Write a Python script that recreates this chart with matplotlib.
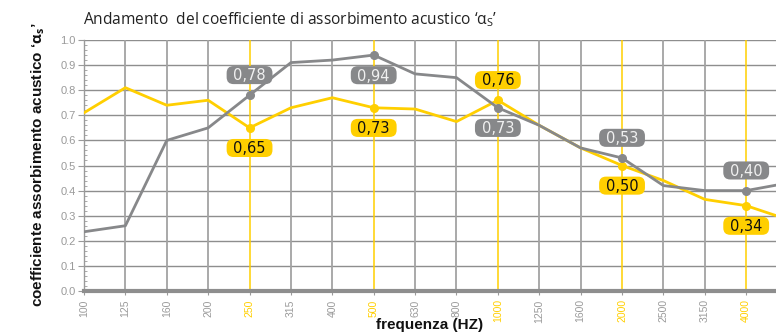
import numpy as np
import matplotlib
matplotlib.use("Agg")
import matplotlib.pyplot as plt
from matplotlib import font_manager
from matplotlib.patches import FancyBboxPatch
from matplotlib.transforms import Affine2D, ScaledTranslation

# Frequency bands (Hz) and absorption coefficients for the two materials
freqs = ["100", "125", "160", "200", "250", "315", "400", "500", "630", "800",
         "1000", "1250", "1600", "2000", "2500", "3150", "4000", "5000"]
grey_vals = [0.236, 0.26, 0.60, 0.65, 0.78, 0.91, 0.92, 0.94, 0.865, 0.85,
             0.73, 0.66, 0.57, 0.53, 0.42, 0.40, 0.40, 0.43]
yellow_vals = [0.71, 0.81, 0.74, 0.76, 0.65, 0.73, 0.77, 0.73, 0.725, 0.675,
               0.76, 0.66, 0.57, 0.50, 0.44, 0.365, 0.34, 0.285]
octave_bands = ["250", "500", "1000", "2000", "4000"]
y_ticks = [0.0, 0.1, 0.2, 0.3, 0.4, 0.5, 0.6, 0.7, 0.8, 0.9, 1.0]

GREY = "#87888a"
YELLOW = "#ffcf00"
GRID = "#8e8e8e"
TICK = "#9a9a9a"

names = {f.name for f in font_manager.fontManager.ttflist}
cond = "Liberation Sans Narrow" if "Liberation Sans Narrow" in names else "Liberation Sans"

plt.rcParams["mathtext.fontset"] = "custom"
plt.rcParams["mathtext.rm"] = "Open Sans"
plt.rcParams["mathtext.it"] = "Open Sans"
plt.rcParams["mathtext.bf"] = "Open Sans:bold"

fig = plt.figure(figsize=(7.76, 3.34), dpi=100)
W, H = 776, 334
ax = fig.add_axes([84 / W, (H - 291) / H, (W - 84) / W, (291 - 40) / H])

x = np.arange(len(freqs))

# grid
for yv in y_ticks[1:]:
    ax.axhline(yv, color=GRID, lw=1.0, zorder=1)
for i, f in enumerate(freqs):
    if f in octave_bands:
        ax.axvline(i, color=YELLOW, lw=1.1, zorder=1)
    else:
        ax.axvline(i, color="#a3a3a3", lw=1.3, zorder=1)

# series
ax.plot(x, yellow_vals, color=YELLOW, lw=2.0, zorder=3)
ax.plot(x, grey_vals, color=GREY, lw=2.0, zorder=4)

# value badges at octave bands (sizes in points)
BADGE_W, BADGE_H, BADGE_R, BADGE_DY = 33.0, 13.0, 5.0, 14.5
FS = 10.5
grey_pos = {"250": 1, "500": -1, "1000": -1, "2000": 1, "4000": 1}
yellow_pos = {"250": -1, "500": -1, "1000": 1, "2000": -1, "4000": -1}
for f in octave_bands:
    i = freqs.index(f)
    for vals, pos, fc, tc, z in ((grey_vals, grey_pos, GREY, "#f0f0f0", 6),
                                 (yellow_vals, yellow_pos, YELLOW, "#111111", 5)):
        v = vals[i]
        dy = BADGE_DY * pos[f]
        ax.plot(i, v, "o", ms=5.5, color=fc, zorder=z)
        tr = (Affine2D().translate(0, dy).scale(1 / 72) + fig.dpi_scale_trans
              + ScaledTranslation(i, v, ax.transData))
        ax.add_patch(FancyBboxPatch((-BADGE_W / 2, -BADGE_H / 2), BADGE_W, BADGE_H,
                                    boxstyle=f"round,pad=0,rounding_size={BADGE_R}",
                                    fc=fc, ec="none", transform=tr, zorder=z + 1,
                                    clip_on=False))
        ax.annotate(f"{v:.2f}".replace(".", ","), (i, v),
                    xytext=(0, dy - 0.365 * FS), textcoords="offset points",
                    ha="center", va="baseline", fontsize=FS, color=tc,
                    family="DejaVu Sans", zorder=z + 2)

# axes styling
for s in ("top", "right"):
    ax.spines[s].set_visible(False)
ax.spines["bottom"].set_color(GRID)
ax.spines["bottom"].set_linewidth(3)
ax.spines["left"].set_color("#9a9a9a")
ax.spines["left"].set_linewidth(1.0)

ax.set_yticks(y_ticks)
ax.set_yticklabels([f"{t:.1f}" for t in y_ticks])
ax.set_yticks(np.arange(0, 1.0001, 0.02), minor=True)
ax.tick_params(axis="y", which="major", length=4, color=TICK, labelsize=8,
               labelcolor=TICK, pad=2)
ax.tick_params(axis="y", which="minor", length=2, direction="in", color=TICK)
ax.set_xticks(x)
ax.set_xticklabels(freqs, rotation=90)
ax.tick_params(axis="x", length=3, color=TICK, labelsize=7.5, pad=3)
for lbl, f in zip(ax.get_xticklabels(), freqs):
    lbl.set_color(YELLOW if f in octave_bands else TICK)
    lbl.set_family("Liberation Sans")
for lbl in ax.get_yticklabels():
    lbl.set_family("Liberation Sans")

# limits last, so tick placement does not widen the view
ax.set_xlim(0, 16.72)
ax.set_ylim(0, 1.0)

fig.text(83 / W, 1 - 20 / H,
         r"Andamento  del coefficiente di assorbimento acustico ‘$\alpha_S$’",
         fontsize=11.2, family="Open Sans", color="#222222", va="center", ha="left")
fig.text(38 / W, 1 - 165 / H,
         r"coefficiente assorbimento acustico ‘$\mathbf{\alpha_s}$’",
         rotation=90, fontsize=11, fontweight="bold", family=cond,
         color="#111111", va="center", ha="center")
fig.text(430 / W, 1 - 325 / H, "frequenza (HZ)", fontsize=11, fontweight="bold",
         family=cond, color="#111111", va="center", ha="center")

fig.savefig("out.png", dpi=100)
